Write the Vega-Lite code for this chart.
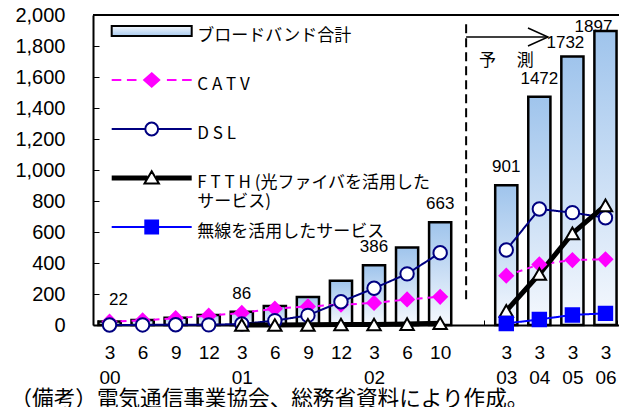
{
  "$schema": "https://vega.github.io/schema/vega-lite/v6.json",
  "width": 526,
  "height": 310,
  "autosize": {"type": "none"},
  "padding": {"left": 93, "top": 15, "right": 0, "bottom": 82},
  "title": {"text": "図表1　固定系ブロードバンド通信の進展", "font": "Noto Sans CJK JP", "fontSize": 27, "fontWeight": "bold", "anchor": "middle", "offset": 0, "dy": 20, "baseline": "bottom", "color": "black"},
  "config": {"view": {"stroke": null}, "font": "Liberation Sans", "axis": {"grid": false, "labelOverlap": false}},
  "resolve": {"axis": {"y": "independent"}},
  "datasets": {
    "bars": [
      {"key": "2000-3", "total": 22, "label": "22"},
      {"key": "2000-6", "total": 32},
      {"key": "2000-9", "total": 47},
      {"key": "2000-12", "total": 64},
      {"key": "2001-3", "total": 86, "label": "86"},
      {"key": "2001-6", "total": 123},
      {"key": "2001-9", "total": 180},
      {"key": "2001-12", "total": 285},
      {"key": "2002-3", "total": 386, "label": "386"},
      {"key": "2002-6", "total": 500},
      {"key": "2002-10", "total": 663, "label": "663"},
      {"key": "2003-3", "total": 901, "label": "901"},
      {"key": "2004-3", "total": 1472, "label": "1472"},
      {"key": "2005-3", "total": 1732, "label": "1732"},
      {"key": "2006-3", "total": 1897, "label": "1897"}
    ],
    "series": [
      {"key": "2000-3", "series": "CATV", "period": "actual", "value": 21.6},
      {"key": "2000-6", "series": "CATV", "period": "actual", "value": 30},
      {"key": "2000-9", "series": "CATV", "period": "actual", "value": 44},
      {"key": "2000-12", "series": "CATV", "period": "actual", "value": 60},
      {"key": "2001-3", "series": "CATV", "period": "actual", "value": 78},
      {"key": "2001-6", "series": "CATV", "period": "actual", "value": 105},
      {"key": "2001-9", "series": "CATV", "period": "actual", "value": 120},
      {"key": "2001-12", "series": "CATV", "period": "actual", "value": 131},
      {"key": "2002-3", "series": "CATV", "period": "actual", "value": 142},
      {"key": "2002-6", "series": "CATV", "period": "actual", "value": 165},
      {"key": "2002-10", "series": "CATV", "period": "actual", "value": 182},
      {"key": "2003-3", "series": "CATV", "period": "forecast", "value": 318},
      {"key": "2004-3", "series": "CATV", "period": "forecast", "value": 391},
      {"key": "2005-3", "series": "CATV", "period": "forecast", "value": 419},
      {"key": "2006-3", "series": "CATV", "period": "forecast", "value": 424},
      {"key": "2000-3", "series": "DSL", "period": "actual", "value": 0},
      {"key": "2000-6", "series": "DSL", "period": "actual", "value": 0.5},
      {"key": "2000-9", "series": "DSL", "period": "actual", "value": 1.5},
      {"key": "2000-12", "series": "DSL", "period": "actual", "value": 1},
      {"key": "2001-3", "series": "DSL", "period": "actual", "value": 7},
      {"key": "2001-6", "series": "DSL", "period": "actual", "value": 28},
      {"key": "2001-9", "series": "DSL", "period": "actual", "value": 62},
      {"key": "2001-12", "series": "DSL", "period": "actual", "value": 150},
      {"key": "2002-3", "series": "DSL", "period": "actual", "value": 237},
      {"key": "2002-6", "series": "DSL", "period": "actual", "value": 330},
      {"key": "2002-10", "series": "DSL", "period": "actual", "value": 466},
      {"key": "2003-3", "series": "DSL", "period": "forecast", "value": 484},
      {"key": "2004-3", "series": "DSL", "period": "forecast", "value": 748},
      {"key": "2005-3", "series": "DSL", "period": "forecast", "value": 725},
      {"key": "2006-3", "series": "DSL", "period": "forecast", "value": 692},
      {"key": "2001-3", "series": "FTTH", "period": "actual", "value": 0},
      {"key": "2001-6", "series": "FTTH", "period": "actual", "value": 0.3},
      {"key": "2001-9", "series": "FTTH", "period": "actual", "value": 1},
      {"key": "2001-12", "series": "FTTH", "period": "actual", "value": 3},
      {"key": "2002-3", "series": "FTTH", "period": "actual", "value": 3},
      {"key": "2002-6", "series": "FTTH", "period": "actual", "value": 6},
      {"key": "2002-10", "series": "FTTH", "period": "actual", "value": 11},
      {"key": "2003-3", "series": "FTTH", "period": "forecast", "value": 91},
      {"key": "2004-3", "series": "FTTH", "period": "forecast", "value": 329},
      {"key": "2005-3", "series": "FTTH", "period": "forecast", "value": 591},
      {"key": "2006-3", "series": "FTTH", "period": "forecast", "value": 772},
      {"key": "2003-3", "series": "wireless", "period": "forecast", "value": 10},
      {"key": "2004-3", "series": "wireless", "period": "forecast", "value": 36},
      {"key": "2005-3", "series": "wireless", "period": "forecast", "value": 65},
      {"key": "2006-3", "series": "wireless", "period": "forecast", "value": 75}
    ]
  },
  "layer": [
    {
      "data": {"name": "bars"},
      "mark": {"type": "bar", "stroke": "black", "strokeWidth": 2.5,
        "fill": {"gradient": "linear", "x1": 0, "y1": 0, "x2": 0, "y2": 1, "stops": [{"offset": 0, "color": "#9fc4ec"}, {"offset": 1, "color": "#f6f9fe"}]}},
      "encoding": {
        "x": {"field": "key", "type": "ordinal",
          "scale": {"domain": ["2000-3","2000-6","2000-9","2000-12","2001-3","2001-6","2001-9","2001-12","2002-3","2002-6","2002-10","gap","2003-3","2004-3","2005-3","2006-3"], "range": [0, 529], "paddingInner": 0.33, "paddingOuter": 0.165},
          "axis": {
            "title": "（備考）電気通信事業協会、総務省資料により作成。",
            "titleFont": "Noto Sans CJK JP", "titleFontSize": 21.6, "titleFontWeight": "normal", "titleColor": "black",
            "titleAlign": "left", "titleAnchor": "start", "titleX": -83, "titleY": 74, "titleBaseline": "middle",
            "labelExpr": "datum.value == 'gap' ? '' : [split(datum.value,'-')[1], split(datum.value,'-')[1] == '3' ? substring(split(datum.value,'-')[0], 2) : '']",
            "labelFont": "Liberation Sans", "labelFontSize": 19, "labelLineHeight": 25, "labelColor": "black", "labelAngle": 0,
            "labelPadding": 23, "labelOverlap": false,
            "tickBand": "extent", "tickSize": -5, "tickColor": "black", "tickWidth": 1,
            "domainColor": "black", "domainWidth": 2
          }
        },
        "y": {"field": "total", "type": "quantitative",
          "scale": {"domain": [0, 2000], "nice": false},
          "axis": {"orient": "left", "title": null, "values": [0,400,800,1200,1600,2000], "format": ",d", "labelOverlap": false,
            "labelFont": "Liberation Sans", "labelFontSize": 20, "labelColor": "black", "labelPadding": 34,
            "tickSize": -6, "tickColor": "black", "tickWidth": 1, "domainColor": "black", "domainWidth": 2}
        }
      }
    },
    {
      "data": {"values": [{"top": 2000}]},
      "mark": {"type": "rule", "color": "black", "strokeWidth": 2},
      "encoding": {"y": {"field": "top", "type": "quantitative",
        "axis": {"orient": "left", "title": null, "values": [200,600,1000,1400,1800], "format": ",d", "labelOverlap": false,
            "labelFont": "Liberation Sans", "labelFontSize": 20, "labelColor": "black", "labelPadding": 34,
            "tickSize": -6, "tickColor": "black", "tickWidth": 1, "domain": false}}}
    },
    {
      "data": {"values": [{"key": "gap", "top": 1940, "bottom": 140}]},
      "mark": {"type": "rule", "color": "black", "strokeWidth": 2, "strokeDash": [9, 5]},
      "encoding": {
        "x": {"field": "key", "type": "ordinal", "bandPosition": 0.18},
        "y": {"field": "top", "type": "quantitative", "axis": null},
        "y2": {"field": "bottom"}
      }
    },
    {
      "data": {"name": "series"},
      "transform": [{"filter": "datum.series != 'FTTH'"}],
      "mark": {"type": "line", "strokeWidth": 2},
      "encoding": {
        "x": {"field": "key", "type": "ordinal"},
        "y": {"field": "value", "type": "quantitative", "axis": null},
        "stroke": {"field": "series", "type": "nominal", "legend": null,
          "scale": {"domain": ["CATV","DSL","FTTH","wireless"], "range": ["#ff00ff","#000080","black","#0000ff"]}},
        "strokeDash": {"field": "series", "type": "nominal", "legend": null,
          "scale": {"domain": ["CATV","DSL","FTTH","wireless"], "range": [[6,5],[1,0],[1,0],[1,0]]}},
        "detail": {"field": "period"}
      }
    },
    {
      "data": {"name": "series"},
      "transform": [{"filter": "datum.series == 'FTTH'"}],
      "mark": {"type": "line", "strokeWidth": 5, "color": "black"},
      "encoding": {
        "x": {"field": "key", "type": "ordinal"},
        "y": {"field": "value", "type": "quantitative", "axis": null},
        "detail": {"field": "period"}
      }
    },
    {
      "data": {"name": "series"},
      "mark": {"type": "point", "filled": true, "size": 180, "strokeWidth": 2},
      "encoding": {
        "x": {"field": "key", "type": "ordinal"},
        "y": {"field": "value", "type": "quantitative", "axis": null},
        "fill": {"field": "series", "type": "nominal", "legend": null,
          "scale": {"domain": ["CATV","DSL","FTTH","wireless"], "range": ["#ff00ff","white","white","#0000ff"]}},
        "stroke": {"field": "series", "type": "nominal", "legend": null,
          "scale": {"domain": ["CATV","DSL","FTTH","wireless"], "range": ["#ff00ff","#000080","black","#0000ff"]}},
        "shape": {"field": "series", "type": "nominal", "legend": null,
          "scale": {"domain": ["CATV","DSL","FTTH","wireless"], "range": ["diamond","circle","triangle-up","square"]}},
        "opacity": {"field": "series", "type": "nominal",
          "scale": {"domain": ["total","CATV","DSL","FTTH","wireless"], "range": [1, 1]},
          "legend": {
            "orient": "none", "legendX": 41.7, "legendY": -1, "title": null, "padding": 0,
            "symbolSize": 1024, "symbolStrokeWidth": 2, "labelOffset": 28.6, "rowPadding": -2,
            "labelFont": "Noto Sans CJK JP", "labelFontSize": 17, "labelLineHeight": 24, "labelColor": "black", "labelLimit": 400,
            "labelExpr": "datum.value==='total'?['ブロードバンド合計','']:datum.value==='CATV'?['C A T V','']:datum.value==='DSL'?['D S L','']:datum.value==='FTTH'?['F T T H (光ファイバを活用した','サービス)']:['無線を活用したサービス','']",
            "encoding": {
              "symbols": {
                "size": {"value": 1024},
                "strokeWidth": {"value": 2},
                "opacity": {"value": 1},
                "fillOpacity": {"value": 1},
                "shape": {"value": {"expr": "datum.value==='total'?'M-2.5,-0.31H2.5V0.31H-2.5Z':datum.value==='CATV'?'M-2.5,0H-1.9M-1.55,0H-0.95M0.95,0H1.55M1.9,0H2.5M0,-0.42L0.47,0L0,0.42L-0.47,0Z':datum.value==='DSL'?'M-2.5,0H-0.42M0.42,0H2.5M-0.4,0A0.4,0.4,0,1,0,0.4,0A0.4,0.4,0,1,0,-0.4,0Z':datum.value==='FTTH'?'M-2.5,-0.09H-0.27M-2.5,0H-0.27M-2.5,0.09H-0.27M0.27,-0.09H2.5M0.27,0H2.5M0.27,0.09H2.5M0,-0.42L0.45,0.35L-0.45,0.35Z':'M-2.5,0H-0.4M0.4,0H2.5M-0.4,-0.4H0.4V0.4H-0.4Z'"}},
                "fill": {
                  "condition": {"test": "datum.value==='total'", "value": {"gradient": "linear", "x1": 0, "y1": 0, "x2": 0, "y2": 1, "stops": [{"offset": 0, "color": "#f4f8fd"}, {"offset": 1, "color": "#a9cbef"}]}},
                  "value": {"expr": "datum.value==='CATV'?'#ff00ff':datum.value==='wireless'?'#0000ff':'white'"}
                },
                "stroke": {"value": {"expr": "datum.value==='CATV'?'#ff00ff':datum.value==='DSL'?'#000080':datum.value==='wireless'?'#0000ff':'black'"}}
              },
              "labels": {"dy": {"value": 5}}
            }
          }
        }
      }
    },
    {
      "data": {"name": "bars"},
      "transform": [{"filter": "indexof(['2001-3','2002-3','2002-10','2003-3','2004-3'], datum.key) >= 0"}],
      "mark": {"type": "text", "font": "Liberation Sans", "fontSize": 17, "color": "black", "baseline": "middle", "dy": -18},
      "encoding": {
        "x": {"field": "key", "type": "ordinal"},
        "y": {"field": "total", "type": "quantitative", "axis": null},
        "text": {"field": "label"}
      }
    },
    {
      "data": {"name": "bars"},
      "transform": [{"filter": "datum.key == '2000-3'"}],
      "mark": {"type": "text", "font": "Liberation Sans", "fontSize": 17, "color": "black", "baseline": "middle", "dy": -22, "dx": 9},
      "encoding": {
        "x": {"field": "key", "type": "ordinal"},
        "y": {"field": "total", "type": "quantitative", "axis": null},
        "text": {"field": "label"}
      }
    },
    {
      "data": {"name": "bars"},
      "transform": [{"filter": "datum.key == '2005-3'"}],
      "mark": {"type": "text", "font": "Liberation Sans", "fontSize": 17, "color": "black", "baseline": "middle", "dy": -13.5, "dx": -7},
      "encoding": {
        "x": {"field": "key", "type": "ordinal"},
        "y": {"field": "total", "type": "quantitative", "axis": null},
        "text": {"field": "label"}
      }
    },
    {
      "data": {"name": "bars"},
      "transform": [{"filter": "datum.key == '2006-3'"}],
      "mark": {"type": "text", "font": "Liberation Sans", "fontSize": 17, "color": "black", "baseline": "middle", "dy": -3.5, "dx": -12},
      "encoding": {
        "x": {"field": "key", "type": "ordinal"},
        "y": {"field": "total", "type": "quantitative", "axis": null},
        "text": {"field": "label"}
      }
    },
    {
      "data": {"values": [{"key": "gap", "key2": "2004-3", "y": 1858}]},
      "mark": {"type": "rule", "color": "black", "strokeWidth": 1.5},
      "encoding": {
        "x": {"field": "key", "type": "ordinal", "bandPosition": 0.18},
        "x2": {"field": "key2", "bandPosition": 0.89},
        "y": {"field": "y", "type": "quantitative", "axis": null}
      }
    },
    {
      "data": {"values": [{"key": "2004-3", "y": 1858}]},
      "mark": {"type": "point", "filled": false, "stroke": "black", "strokeWidth": 1.5, "opacity": 1, "size": 400, "shape": "M-2,-0.9L0,0L-2,0.9"},
      "encoding": {
        "x": {"field": "key", "type": "ordinal", "bandPosition": 0.89},
        "y": {"field": "y", "type": "quantitative", "axis": null}
      }
    },
    {
      "data": {"values": [{"key": "2003-3", "y": 1703, "text": "予　 測"}]},
      "mark": {"type": "text", "font": "Noto Sans CJK JP", "fontSize": 17, "color": "black", "baseline": "middle"},
      "encoding": {
        "x": {"field": "key", "type": "ordinal"},
        "y": {"field": "y", "type": "quantitative", "axis": null},
        "text": {"field": "text"}
      }
    }
  ]
}
